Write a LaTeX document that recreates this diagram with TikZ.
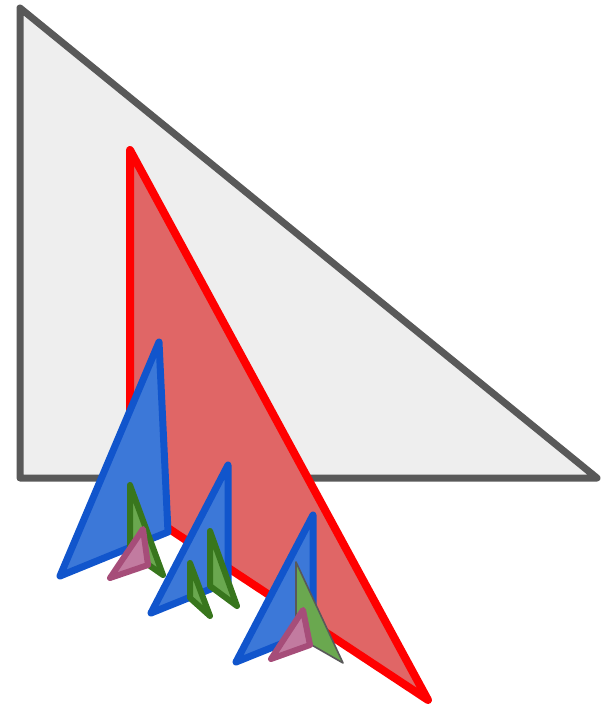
\documentclass[tikz,border=0pt]{standalone}
\definecolor{grayline}{HTML}{595959}
\definecolor{grayfill}{HTML}{EEEEEE}
\definecolor{redline}{HTML}{FF0000}
\definecolor{redfill}{HTML}{E06666}
\definecolor{blueline}{HTML}{1155CC}
\definecolor{bluefill}{HTML}{3C78D8}
\definecolor{greenline}{HTML}{38761D}
\definecolor{greenfill}{HTML}{6AA84F}
\definecolor{pinkline}{HTML}{A64D79}
\definecolor{pinkfill}{HTML}{C27BA0}
\tikzset{
  graytri/.style={draw=grayline,fill=grayfill,line width=7pt,line join=round},
  redtri/.style={draw=redline,fill=redfill,line width=8pt,line join=round},
  bluetri/.style={draw=blueline,fill=bluefill,line width=7pt,line join=round},
  greentri/.style={draw=greenline,fill=greenfill,line width=6pt,line join=round},
  greenthin/.style={draw=grayline,fill=greenfill,line width=1.6pt,line join=round},
  pinktri/.style={draw=pinkline,fill=pinkfill,line width=6pt,line join=round}
}
\begin{document}
\begin{tikzpicture}[x=1pt,y=-1pt]
\useasboundingbox (0,0) rectangle (601,710);
\draw[graytri] (20,8) -- (20,478) -- (597,478) -- cycle;
\draw[redtri] (130,150) -- (130,503) -- (428,700) -- cycle;
% group 1
\draw[bluetri] (159,342) -- (60,576) -- (168,532) -- cycle;
\draw[greentri] (130,485) -- (130,552) -- (163,575) -- cycle;
\draw[pinktri] (143,529) -- (110,578) -- (148,565) -- cycle;
% group 2
\draw[bluetri] (228,465) -- (151,613) -- (228,582) -- cycle;
\draw[greentri] (190,563) -- (190,598) -- (210,616) -- cycle;
\draw[greentri] (210,531) -- (210,586) -- (237,606) -- cycle;
% group 3
\draw[bluetri] (313,515) -- (236,662) -- (313,631) -- cycle;
\draw[greenthin] (296,562) -- (296,636) -- (343,663) -- cycle;
\draw[pinktri] (303,610) -- (271,659) -- (310,645) -- cycle;
\end{tikzpicture}
\end{document}
